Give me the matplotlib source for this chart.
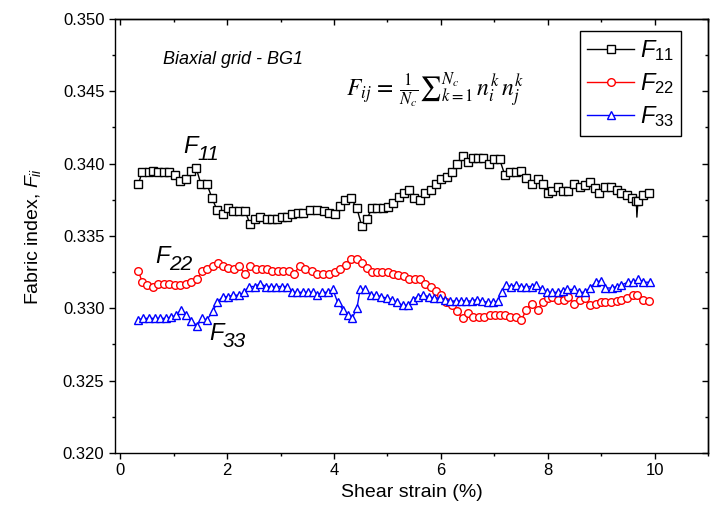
import matplotlib
matplotlib.use("Agg")
from matplotlib import pyplot as plt
from matplotlib import ticker

# fabric index components vs shear strain (%)
F11_x = [0.34, 0.41, 0.53, 0.62, 0.71, 0.81, 0.92, 1.03, 1.12, 1.23,
         1.33, 1.42, 1.51, 1.62, 1.72, 1.81, 1.92, 2.02, 2.11, 2.22,
         2.34, 2.43, 2.52, 2.62, 2.74, 2.84, 2.93, 3.03, 3.12, 3.22,
         3.33, 3.42, 3.55, 3.68, 3.81, 3.91, 4.02, 4.11, 4.21, 4.32,
         4.43, 4.52, 4.62, 4.71, 4.80, 4.92, 5.01, 5.10, 5.21, 5.31,
         5.40, 5.50, 5.61, 5.70, 5.81, 5.91, 6.00, 6.11, 6.21, 6.30,
         6.41, 6.50, 6.60, 6.69, 6.79, 6.90, 6.99, 7.10, 7.20, 7.29,
         7.40, 7.51, 7.60, 7.70, 7.81, 7.91, 8.00, 8.09, 8.19, 8.28,
         8.39, 8.50, 8.60, 8.69, 8.79, 8.88, 8.97, 9.07, 9.18, 9.29,
         9.38, 9.48, 9.57, 9.66, 9.67, 9.69, 9.78, 9.89]
F11_y = [0.3386, 0.3394, 0.3394, 0.3395, 0.3394, 0.3394, 0.3394, 0.3392, 0.3388, 0.3389,
         0.3395, 0.3397, 0.3386, 0.3386, 0.3376, 0.3368, 0.3365, 0.3369, 0.3367, 0.3367,
         0.3367, 0.3358, 0.3362, 0.3363, 0.3362, 0.3362, 0.3362, 0.3363, 0.3363, 0.3365,
         0.3366, 0.3366, 0.3368, 0.3368, 0.3367, 0.3366, 0.3365, 0.3371, 0.3375, 0.3376,
         0.3369, 0.3357, 0.3362, 0.3369, 0.3369, 0.3369, 0.3370, 0.3373, 0.3377, 0.3380,
         0.3382, 0.3376, 0.3375, 0.3380, 0.3382, 0.3386, 0.3389, 0.3391, 0.3394, 0.3400,
         0.3405, 0.3401, 0.3404, 0.3404, 0.3404, 0.3400, 0.3403, 0.3403, 0.3392, 0.3394,
         0.3394, 0.3395, 0.3390, 0.3386, 0.3389, 0.3386, 0.3380, 0.3381, 0.3384, 0.3381,
         0.3381, 0.3386, 0.3384, 0.3385, 0.3387, 0.3383, 0.3380, 0.3384, 0.3384, 0.3382,
         0.3380, 0.3378, 0.3376, 0.3374, 0.3363, 0.3374, 0.3378, 0.3380]
# strain values logged without a symbol (single-step glitch)
F11_unmarked = [9.67]

F22_x = [0.34, 0.41, 0.51, 0.62, 0.71, 0.82, 0.92, 1.03, 1.12, 1.23,
         1.33, 1.44, 1.53, 1.62, 1.74, 1.83, 1.92, 2.02, 2.13, 2.22,
         2.34, 2.43, 2.54, 2.65, 2.75, 2.84, 2.95, 3.05, 3.16, 3.25,
         3.36, 3.46, 3.59, 3.68, 3.79, 3.91, 4.02, 4.11, 4.22, 4.32,
         4.43, 4.52, 4.62, 4.71, 4.80, 4.90, 5.01, 5.10, 5.20, 5.31,
         5.40, 5.51, 5.61, 5.70, 5.81, 5.91, 6.00, 6.09, 6.21, 6.30,
         6.41, 6.50, 6.60, 6.71, 6.80, 6.92, 7.01, 7.10, 7.20, 7.30,
         7.40, 7.51, 7.60, 7.70, 7.81, 7.91, 8.00, 8.09, 8.19, 8.30,
         8.39, 8.50, 8.60, 8.69, 8.79, 8.90, 8.99, 9.08, 9.18, 9.29,
         9.38, 9.48, 9.59, 9.68, 9.78, 9.89]
F22_y = [0.3326, 0.3318, 0.3316, 0.3315, 0.3317, 0.3317, 0.3317, 0.3316, 0.3316, 0.3317,
         0.3318, 0.3320, 0.3326, 0.3327, 0.3329, 0.3331, 0.3329, 0.3328, 0.3327, 0.3329,
         0.3324, 0.3329, 0.3327, 0.3327, 0.3327, 0.3326, 0.3326, 0.3326, 0.3326, 0.3324,
         0.3329, 0.3327, 0.3326, 0.3324, 0.3324, 0.3324, 0.3325, 0.3327, 0.3330, 0.3334,
         0.3334, 0.3331, 0.3328, 0.3325, 0.3325, 0.3325, 0.3325, 0.3324, 0.3323, 0.3322,
         0.3320, 0.3320, 0.3320, 0.3317, 0.3315, 0.3312, 0.3309, 0.3304, 0.3302, 0.3298,
         0.3293, 0.3297, 0.3294, 0.3294, 0.3294, 0.3295, 0.3295, 0.3295, 0.3295, 0.3294,
         0.3294, 0.3292, 0.3299, 0.3303, 0.3299, 0.3304, 0.3307, 0.3308, 0.3306, 0.3306,
         0.3308, 0.3303, 0.3306, 0.3307, 0.3302, 0.3303, 0.3304, 0.3304, 0.3304, 0.3305,
         0.3306, 0.3307, 0.3309, 0.3309, 0.3306, 0.3305]

F33_x = [0.34, 0.43, 0.54, 0.65, 0.75, 0.86, 0.95, 1.05, 1.14, 1.23,
         1.33, 1.44, 1.53, 1.62, 1.74, 1.81, 1.92, 2.02, 2.11, 2.22,
         2.32, 2.41, 2.52, 2.62, 2.73, 2.82, 2.92, 3.03, 3.12, 3.22,
         3.31, 3.42, 3.51, 3.61, 3.68, 3.78, 3.89, 3.98, 4.07, 4.17,
         4.26, 4.34, 4.43, 4.49, 4.58, 4.69, 4.79, 4.88, 4.99, 5.08,
         5.18, 5.29, 5.38, 5.48, 5.57, 5.66, 5.78, 5.87, 5.98, 6.07,
         6.17, 6.28, 6.37, 6.47, 6.58, 6.67, 6.77, 6.88, 6.97, 7.07,
         7.14, 7.22, 7.31, 7.40, 7.50, 7.60, 7.70, 7.79, 7.89, 7.98,
         8.09, 8.19, 8.28, 8.37, 8.49, 8.58, 8.69, 8.79, 8.90, 8.99,
         9.08, 9.20, 9.29, 9.38, 9.50, 9.59, 9.70, 9.79, 9.91]
F33_y = [0.3292, 0.3293, 0.3293, 0.3293, 0.3293, 0.3293, 0.3294, 0.3295, 0.3299, 0.3295,
         0.3291, 0.3288, 0.3293, 0.3292, 0.3298, 0.3304, 0.3308, 0.3308, 0.3309, 0.3309,
         0.3311, 0.3315, 0.3315, 0.3317, 0.3315, 0.3315, 0.3315, 0.3315, 0.3315, 0.3311,
         0.3311, 0.3311, 0.3311, 0.3311, 0.3309, 0.3311, 0.3311, 0.3313, 0.3304, 0.3299,
         0.3295, 0.3293, 0.3300, 0.3313, 0.3313, 0.3309, 0.3309, 0.3308, 0.3307, 0.3306,
         0.3304, 0.3302, 0.3302, 0.3306, 0.3308, 0.3309, 0.3308, 0.3307, 0.3307, 0.3306,
         0.3305, 0.3305, 0.3305, 0.3305, 0.3305, 0.3306, 0.3305, 0.3304, 0.3304, 0.3305,
         0.3311, 0.3316, 0.3315, 0.3316, 0.3315, 0.3315, 0.3315, 0.3316, 0.3313, 0.3311,
         0.3311, 0.3311, 0.3312, 0.3313, 0.3313, 0.3311, 0.3311, 0.3314, 0.3318, 0.3319,
         0.3314, 0.3314, 0.3315, 0.3316, 0.3318, 0.3318, 0.3320, 0.3318, 0.3318]

SERIES = [
    ("11", F11_x, F11_y, "black", "s"),
    ("22", F22_x, F22_y, "red", "o"),
    ("33", F33_x, F33_y, "blue", "^"),
]
# where the curve names sit: (x, y) in data units
CURVE_LABELS = {"11": (1.18, 0.34074), "22": (0.65, 0.3331), "33": (1.66, 0.3278)}

plt.rcParams.update({
    "font.family": ["Liberation Sans", "DejaVu Sans"],
    "font.size": 12,
    "mathtext.fontset": "custom",
    "mathtext.rm": "Liberation Sans",
    "mathtext.it": "Liberation Sans:italic",
    "mathtext.bf": "Liberation Sans:bold",
    "axes.linewidth": 1.0,
})

fig = plt.figure(figsize=(7.18, 5.26), dpi=100)
ax = fig.add_axes([0.160, 0.139, 0.826, 0.825])

for sub, xs, ys, color, marker in SERIES:
    unmarked = F11_unmarked if sub == "11" else []
    every = [i for i, x in enumerate(xs) if x not in unmarked]
    ax.plot(xs, ys, color=color, lw=1.0, marker=marker, markersize=5.5 if marker != "^" else 6.0,
            markerfacecolor="white", markeredgecolor=color, markeredgewidth=1.0,
            markevery=every, label=f"$F_{{{sub}}}$")

ax.set_xlim(-0.1, 11)
ax.set_ylim(0.320, 0.350)
ax.xaxis.set_major_locator(ticker.MultipleLocator(2))
ax.xaxis.set_minor_locator(ticker.MultipleLocator(1))
ax.yaxis.set_major_locator(ticker.MultipleLocator(0.005))
ax.yaxis.set_minor_locator(ticker.MultipleLocator(0.0025))
ax.yaxis.set_major_formatter(ticker.FormatStrFormatter("%.3f"))
ax.tick_params(which="major", direction="out", length=4, width=1.0, labelsize=12)
ax.tick_params(which="minor", direction="out", length=2.5, width=1.0)

# mirrored inward ticks on top and right
top = ax.secondary_xaxis("top")
top.xaxis.set_major_locator(ticker.MultipleLocator(2))
top.xaxis.set_minor_locator(ticker.MultipleLocator(1))
top.tick_params(which="major", direction="in", length=4, width=1.0, labeltop=False)
top.tick_params(which="minor", direction="in", length=2.5, width=1.0)
right = ax.secondary_yaxis("right")
right.yaxis.set_major_locator(ticker.MultipleLocator(0.005))
right.yaxis.set_minor_locator(ticker.MultipleLocator(0.0025))
right.tick_params(which="major", direction="in", length=4, width=1.0, labelright=False)
right.tick_params(which="minor", direction="in", length=2.5, width=1.0)

ax.set_xlabel("Shear strain (%)", fontsize=14, labelpad=4)
ax.set_ylabel("Fabric index, $F_{ii}$", fontsize=14, labelpad=14)

ax.text(0.8, 0.3472, "Biaxial grid - BG1", fontsize=13, style="italic", va="center")
ax.text(4.22, 0.3451, r"$F_{ij}\,=\,\frac{1}{N_c}{\sum}_{k=1}^{N_c}\,n_i^k\,n_j^k$",
        fontsize=17, va="center", math_fontfamily="stix")

for sub, (lx, ly) in CURVE_LABELS.items():
    ax.text(lx, ly, "F", fontsize=17, style="italic", va="baseline")
    ax.annotate(sub, (lx, ly), xytext=(10, -5), textcoords="offset points",
                fontsize=15, style="italic", va="baseline")

leg = ax.legend(loc="upper right", bbox_to_anchor=(0.955, 0.972), borderaxespad=0,
                fontsize=17, handlelength=2.0, labelspacing=0.35, borderpad=0.3,
                handletextpad=0.25, fancybox=False, framealpha=1, edgecolor="black")
leg.get_frame().set_linewidth(1.0)

plt.savefig("out.png", dpi=100)
